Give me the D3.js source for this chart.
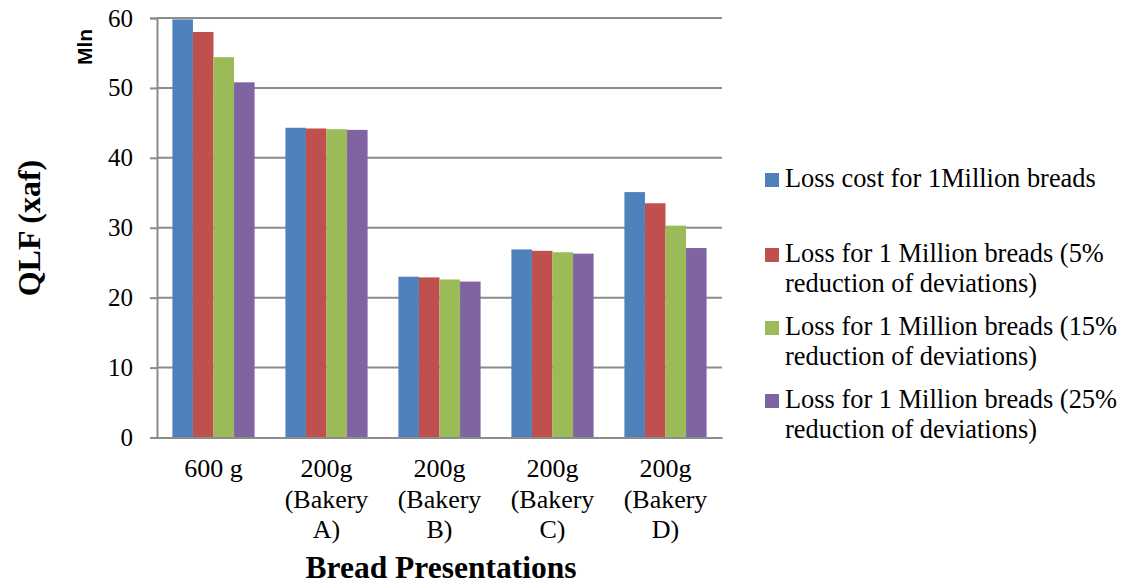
<!DOCTYPE html>
<html>
<head>
<meta charset="utf-8">
<script src="https://cdn.jsdelivr.net/npm/d3@7"></script>
<style>
  html, body { margin: 0; padding: 0; background: #fff; }
  svg { display: block; }
</style>
</head>
<body>
<svg id="chart" width="1123" height="587"></svg>
<script>
// Bread presentations on the x axis (each label split into lines)
const categories = ["600 g", "200g (Bakery A)", "200g (Bakery B)", "200g (Bakery C)", "200g (Bakery D)"];
const categoryLines = [["600 g"], ["200g", "(Bakery", "A)"], ["200g", "(Bakery", "B)"], ["200g", "(Bakery", "C)"], ["200g", "(Bakery", "D)"]];

// Series names (legend lines) and values in millions
const seriesNames = [
  "Loss cost for 1Million breads",
  "Loss for 1 Million breads (5% reduction of deviations)",
  "Loss for 1 Million breads (15% reduction of deviations)",
  "Loss for 1 Million breads (25% reduction of deviations)"
];
const legendLines = [
  ["Loss cost for 1Million breads"],
  ["Loss for 1 Million breads (5%", "reduction of deviations)"],
  ["Loss for 1 Million breads (15%", "reduction of deviations)"],
  ["Loss for 1 Million breads (25%", "reduction of deviations)"]
];
const lossBase = [59.8, 44.3, 23.0, 26.9, 35.1];
const loss5 = [58.0, 44.2, 22.9, 26.7, 33.5];
const loss15 = [54.4, 44.1, 22.6, 26.5, 30.3];
const loss25 = [50.8, 44.0, 22.3, 26.3, 27.1];
const seriesValues = [lossBase, loss5, loss15, loss25];
const seriesColors = ["#4F81BD", "#C0504D", "#9BBB59", "#8064A2"];
const yTicks = [0, 10, 20, 30, 40, 50, 60];

const svg = d3.select("#chart");
const serif = "'Liberation Serif', 'Times New Roman', serif";
const plot = { left: 157, right: 722, top: 18, bottom: 437.5 };

const x0 = d3.scaleBand().domain(categories).range([plot.left, plot.right]).paddingInner(0).paddingOuter(0);
const barW = x0.bandwidth() / 5.5; // 150% gap width
const x1 = d3.scaleBand().domain(seriesNames).range([0, barW * 4]).padding(0);
const y = d3.scaleLinear().domain([0, 60]).range([plot.bottom, plot.top]);

// Horizontal gridlines
svg.append("g")
  .selectAll("line")
  .data(yTicks.filter(t => t > 0))
  .join("line")
  .attr("x1", plot.left).attr("x2", plot.right)
  .attr("y1", d => y(d)).attr("y2", d => y(d))
  .attr("stroke", "#8c8c8c").attr("stroke-width", 2);

// Bars
const groups = svg.append("g")
  .selectAll("g")
  .data(categories)
  .join("g")
  .attr("transform", d => `translate(${x0(d) + (x0.bandwidth() - barW * 4) / 2},0)`);

groups.selectAll("rect")
  .data((c, i) => seriesNames.map((s, j) => ({ s, j, v: seriesValues[j][i] })))
  .join("rect")
  .attr("x", d => x1(d.s))
  .attr("width", x1.bandwidth())
  .attr("y", d => y(d.v))
  .attr("height", d => y(0) - y(d.v))
  .attr("fill", d => seriesColors[d.j]);

// Y axis
const yAxis = d3.axisLeft(y).tickValues(yTicks).tickSize(7).tickPadding(17).tickFormat(d3.format("d"));
const gy = svg.append("g").attr("transform", `translate(${plot.left},0)`).call(yAxis);
gy.select(".domain").attr("stroke", "#8c8c8c").attr("stroke-width", 2);
gy.selectAll(".tick line").attr("stroke", "#8c8c8c").attr("stroke-width", 2);
gy.selectAll(".tick text").attr("font-family", serif).attr("font-size", 25).attr("fill", "#000");

// X axis line
const gx = svg.append("g").attr("transform", `translate(0,${plot.bottom})`)
  .call(d3.axisBottom(x0).tickSize(0).tickFormat(""));
gx.select(".domain").attr("stroke", "#8c8c8c").attr("stroke-width", 2);

// Category labels
const catLabels = svg.append("g")
  .selectAll("text")
  .data(categories)
  .join("text")
  .attr("text-anchor", "middle")
  .attr("font-family", serif)
  .attr("font-size", 26)
  .attr("fill", "#000")
  .attr("transform", d => `translate(${x0(d) + x0.bandwidth() / 2},477)`);
catLabels.selectAll("tspan")
  .data((d, i) => categoryLines[i])
  .join("tspan")
  .attr("x", 0)
  .attr("dy", (d, i) => i === 0 ? 0 : 30.5)
  .text(d => d);

// Axis titles
svg.append("text")
  .attr("x", 441).attr("y", 578)
  .attr("text-anchor", "middle")
  .attr("font-family", serif).attr("font-size", 31.5).attr("font-weight", "bold")
  .text("Bread Presentations");

svg.append("text")
  .attr("transform", "translate(40,228) rotate(-90)")
  .attr("text-anchor", "middle")
  .attr("font-family", serif).attr("font-size", 32).attr("font-weight", "bold")
  .text("QLF (xaf)");

svg.append("text")
  .attr("transform", "translate(92,47) rotate(-90)")
  .attr("text-anchor", "middle")
  .attr("font-family", "'Liberation Sans', Arial, sans-serif").attr("font-size", 21).attr("font-weight", "bold")
  .text("Mln");

// Legend
const legendY = [187, 262, 335, 408];
const legend = svg.append("g")
  .selectAll("g")
  .data(seriesNames)
  .join("g")
  .attr("transform", (d, i) => `translate(765,${legendY[i]})`);
legend.append("rect")
  .attr("x", 0).attr("y", -14).attr("width", 14).attr("height", 14)
  .attr("fill", (d, i) => seriesColors[i]);
const legendText = legend.append("text")
  .attr("x", 20)
  .attr("font-family", serif).attr("font-size", 26.4).attr("fill", "#000");
legendText.selectAll("tspan")
  .data((d, i) => legendLines[i])
  .join("tspan")
  .attr("x", 20)
  .attr("dy", (d, i) => i === 0 ? 0 : 30)
  .text(d => d);
</script>
</body>
</html>
